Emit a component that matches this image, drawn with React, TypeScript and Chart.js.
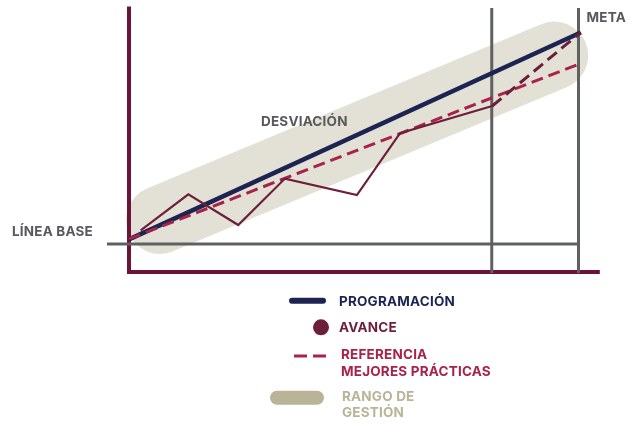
import React, { useEffect, useRef } from "react";
import { Chart, registerables } from "chart.js";
Chart.register(...registerables);

// ---- data (x: tiempo, línea base = 0, meta = 10; y: avance, línea base = 0) ----
const programacionX = [0, 10.05];
const programacionY = [2.2, 100.2];
const avanceX = [0.26, 1.32, 2.43, 3.47, 5.07, 6.03, 8.08];
const avanceY = [6.5, 23.5, 9.0, 31.0, 23.2, 52.5, 65.4];
const proyeccionX = [8.08, 10.05];
const proyeccionY = [65.4, 100.3];
const referenciaX = [0, 10.0];
const referenciaY = [2.4, 85.2];
const rangoX = [0.69, 9.46];
const rangoY = [11.4, 89.3];
const corteX = 8.07;
const metaX = 10.0;
const lineaBaseX = [-0.49, 10.0];
const ejeYRango = [-13.3, 111.6];
const ejeXRango = [0, 10.43];
const guiasYRango = [-13.7, 111.8];

const legendLabels = [["PROGRAMACIÓN"], ["AVANCE"], ["REFERENCIA", "MEJORES PRÁCTICAS"], ["RANGO DE", "GESTIÓN"]];
const annotationLabels = { meta: "META", base: "LÍNEA BASE", desviacion: "DESVIACIÓN" };

const C = {
  navy: "#1d2452",
  avance: "#6b1f3a",
  ref: "#a8234a",
  axis: "#6a1537",
  grey: "#5e6062",
  band: "#e3e1d6",
  bandLegend: "#b9b498",
  text: "#58595b",
};

const pts = (xs: number[], ys: number[]) => xs.map((x, i) => ({ x, y: ys[i] }));

const FONT = "bold 13.5px Inter, 'Open Sans', sans-serif";

const overlay = {
  id: "overlay",
  afterDraw(chart: any) {
    const ctx = chart.ctx as CanvasRenderingContext2D;
    const xs = chart.scales.x;
    const ys = chart.scales.y;
    ctx.save();
    ctx.font = FONT;
    (ctx as any).letterSpacing = "0.2px";
    ctx.textBaseline = "middle";
    // annotations
    ctx.fillStyle = C.text;
    ctx.textAlign = "left";
    ctx.fillText(annotationLabels.meta, xs.getPixelForValue(metaX) + 8, 18);
    ctx.textAlign = "right";
    ctx.fillText(annotationLabels.base, xs.getPixelForValue(lineaBaseX[0]) - 14, ys.getPixelForValue(0) - 12);
    ctx.textAlign = "left";
    ctx.fillText(annotationLabels.desviacion, 261, 122);

    // legend
    ctx.lineCap = "round";
    // 1 programación
    ctx.strokeStyle = C.navy;
    ctx.lineWidth = 6;
    ctx.beginPath();
    ctx.moveTo(292, 300.7);
    ctx.lineTo(323, 300.7);
    ctx.stroke();
    ctx.fillStyle = C.navy;
    ctx.fillText(legendLabels[0][0], 339, 301.5);
    // 2 avance
    ctx.fillStyle = C.avance;
    ctx.beginPath();
    ctx.arc(321, 327.3, 8, 0, Math.PI * 2);
    ctx.fill();
    ctx.fillText(legendLabels[1][0], 339, 327.5);
    // 3 referencia
    ctx.strokeStyle = C.ref;
    ctx.lineWidth = 3;
    ctx.lineCap = "butt";
    ctx.beginPath();
    ctx.moveTo(294, 356);
    ctx.lineTo(307, 356);
    ctx.moveTo(313, 356);
    ctx.lineTo(326, 356);
    ctx.stroke();
    ctx.fillStyle = C.ref;
    ctx.fillText(legendLabels[2][0], 341, 355);
    ctx.fillText(legendLabels[2][1], 341, 372.3);
    // 4 rango
    ctx.strokeStyle = C.bandLegend;
    ctx.lineWidth = 14;
    ctx.lineCap = "round";
    ctx.beginPath();
    ctx.moveTo(277, 397.7);
    ctx.lineTo(317, 397.7);
    ctx.stroke();
    ctx.fillStyle = C.bandLegend;
    ctx.fillText(legendLabels[3][0], 342, 397.3);
    ctx.fillText(legendLabels[3][1], 342, 413.3);
    ctx.restore();
  },
};

export default function App() {
  const ref = useRef<HTMLCanvasElement | null>(null);
  useEffect(() => {
    const canvas = ref.current!;
    const pxX = 44.95;
    const pxY = 2.11;
    const chart = new Chart(canvas, {
      type: "scatter",
      data: {
        datasets: [
          { label: "Rango", data: pts(rangoX, rangoY), showLine: true, borderColor: C.band, borderWidth: 68, borderCapStyle: "round", pointRadius: 0, order: 10 } as any,
          { label: "EjeY", data: pts([0, 0], ejeYRango), showLine: true, borderColor: C.axis, borderWidth: 4, borderCapStyle: "square", pointRadius: 0, order: 8 } as any,
          { label: "EjeX", data: pts(ejeXRango, [ejeYRango[0], ejeYRango[0]]), showLine: true, borderColor: C.axis, borderWidth: 4, borderCapStyle: "square", pointRadius: 0, order: 8 } as any,
          { label: "Base", data: pts(lineaBaseX, [0, 0]), showLine: true, borderColor: C.grey, borderWidth: 3, pointRadius: 0, order: 7 } as any,
          { label: "Corte", data: pts([corteX, corteX], guiasYRango), showLine: true, borderColor: C.grey, borderWidth: 3, pointRadius: 0, order: 7 } as any,
          { label: "Meta", data: pts([metaX, metaX], guiasYRango), showLine: true, borderColor: C.grey, borderWidth: 3, pointRadius: 0, order: 7 } as any,
          { label: "Programación", data: pts(programacionX, programacionY), showLine: true, borderColor: C.navy, borderWidth: 4.5, pointRadius: 0, order: 4 } as any,
          { label: "Referencia", data: pts(referenciaX, referenciaY), showLine: true, borderColor: C.ref, borderWidth: 3, borderDash: [12, 6], pointRadius: 0, order: 3 } as any,
          { label: "Avance", data: pts(avanceX, avanceY), showLine: true, borderColor: C.avance, borderWidth: 2.2, pointRadius: 0, order: 2 } as any,
          { label: "Proyección", data: pts(proyeccionX, proyeccionY), showLine: true, borderColor: C.avance, borderWidth: 3, borderDash: [12, 6], pointRadius: 0, order: 1 } as any,
        ],
      },
      options: {
        animation: false,
        responsive: false,
        devicePixelRatio: 1,
        events: [],
        layout: { padding: 0 },
        plugins: { legend: { display: false }, tooltip: { enabled: false } },
        scales: {
          x: { type: "linear", display: false, min: -129 / pxX, max: (636 - 129) / pxX },
          y: { type: "linear", display: false, min: -(423 - 244) / pxY, max: 244 / pxY },
        },
      },
      plugins: [overlay],
    });
    return () => chart.destroy();
  }, []);
  return (
    <div style={{ position: "fixed", left: 0, top: 0, width: 636, height: 423, background: "#fff" }}>
      <canvas ref={ref} width={636} height={423} style={{ width: 636, height: 423, display: "block" }} />
    </div>
  );
}
